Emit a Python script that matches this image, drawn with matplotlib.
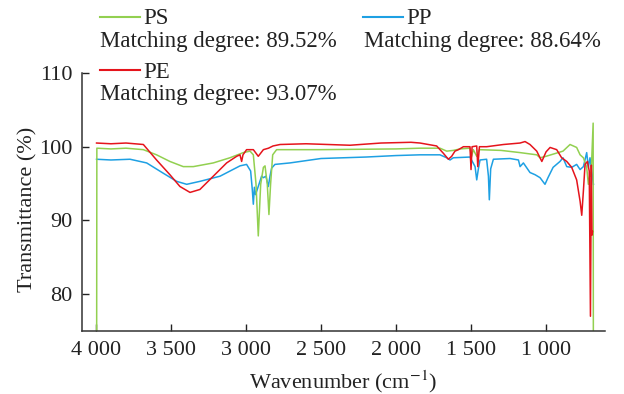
import matplotlib
matplotlib.use("Agg")
import matplotlib.pyplot as plt
from matplotlib.lines import Line2D

# Spectra (wavenumber cm-1, transmittance %)
ps_wn = [3996, 3994, 3900, 3800, 3684, 3596, 3507, 3418, 3351, 3218, 3107, 3018, 2973, 2951,
         2933, 2918, 2902, 2884, 2873, 2858, 2847, 2836, 2822, 2796, 2500, 2000, 1840, 1707,
         1662, 1618, 1573, 1507, 1496, 1485, 1462, 1445, 1300, 1173, 1062, 1040, 1000, 887,
         840, 796, 773, 751, 729, 718, 705, 700, 686, 684]
ps_t = [60, 99.8, 99.7, 99.8, 99.6, 98.9, 98.0, 97.3, 97.3, 97.8, 98.5, 99.2, 99.4, 98.9,
        94.9, 87.9, 94.9, 97.2, 97.4, 94.9, 90.8, 94.9, 98.9, 99.6, 99.6, 99.7, 99.8, 99.8,
        99.4, 99.5, 99.7, 99.8, 98.7, 99.6, 98.7, 99.6, 99.5, 99.2, 98.9, 98.5, 98.7, 99.4,
        100.3, 99.9, 98.9, 98.5, 97.2, 94.9, 96.5, 96.0, 103.2, 60]

pp_wn = [3996, 3900, 3773, 3662, 3551, 3462, 3395, 3307, 3173, 3040, 2996, 2969, 2958, 2951,
         2944, 2936, 2920, 2896, 2884, 2867, 2851, 2840, 2829, 2807, 2707, 2500, 2200, 2000,
         1840, 1707, 1662, 1640, 1618, 1507, 1473, 1462, 1451, 1440, 1396, 1384, 1378, 1369,
         1351, 1240, 1184, 1173, 1151, 1107, 1073, 1040, 1007, 987, 953, 907, 887, 862, 829,
         796, 773, 751, 729, 718, 707, 684]
pp_t = [98.3, 98.2, 98.3, 97.8, 96.4, 95.3, 94.9, 95.3, 96.0, 97.4, 97.6, 96.7, 94.2, 92.2,
        94.5, 93.5, 94.5, 96.0, 95.8, 96.0, 94.6, 96.0, 97.1, 97.6, 97.8, 98.4, 98.6, 98.8,
        98.9, 98.9, 98.5, 98.2, 98.5, 98.6, 97.3, 95.5, 97.0, 98.2, 98.3, 96.0, 92.8, 97.0,
        98.3, 98.4, 98.2, 97.3, 97.8, 96.5, 96.2, 95.8, 94.9, 95.8, 97.2, 98.0, 98.5, 97.3, 97.2,
        97.6, 96.9, 97.3, 99.2, 97.2, 98.5, 94.9]

pe_wn = [3996, 3900, 3800, 3684, 3596, 3507, 3440, 3373, 3307, 3218, 3129, 3062, 3040, 3029,
         3020, 2996, 2951, 2918, 2884, 2850, 2820, 2773, 2600, 2307, 2100, 1900, 1840, 1729,
         1684, 1651, 1629, 1607, 1584, 1551, 1507, 1500, 1493, 1462, 1455, 1444, 1396, 1284,
         1173, 1140, 1107, 1062, 1028, 1000, 973, 929, 896, 862, 829, 796, 773, 762, 751, 740,
         724, 712, 704, 698, 694, 690]
pe_t = [100.5, 100.4, 100.5, 100.3, 98.2, 96.2, 94.6, 93.8, 94.2, 96.0, 97.8, 98.7, 98.9, 98.0,
        98.9, 99.6, 99.6, 98.7, 99.6, 99.8, 100.1, 100.3, 100.4, 100.2, 100.5, 100.6, 100.5, 100.1,
        99.1, 98.3, 98.7, 99.4, 99.6, 100.0, 100.0, 96.9, 100.0, 100.1, 97.3, 100.0, 100.0, 100.3,
        100.5, 100.7, 100.3, 99.4, 98.0, 99.3, 99.9, 99.6, 98.5, 98.0, 97.2, 95.5, 92.6, 90.7, 94.0, 97.6,
        98.0, 96.7, 77.0, 97.5, 88.0, 88.5]

x_ticks = [4000, 3500, 3000, 2500, 2000, 1500, 1000]
x_labels = ["4 000", "3 500", "3 000", "2 500", "2 000", "1 500", "1 000"]
y_ticks = [80, 90, 100, 110]

GREEN = "#92D050"
BLUE = "#1EA0E3"
RED = "#E5141C"

plt.rcParams["font.family"] = ["Liberation Serif", "DejaVu Serif"]
plt.rcParams["mathtext.fontset"] = "stix"

fig = plt.figure(figsize=(6.24, 3.94), dpi=100)
ax = fig.add_axes([82 / 624, 1 - 331 / 394, (605 - 82) / 624, (331 - 73) / 394])

lw = 1.1
ax.plot(pp_wn, pp_t, color=BLUE, lw=lw)
ax.plot(ps_wn, ps_t, color=GREEN, lw=lw)
ax.plot(pe_wn, pe_t, color=RED, lw=lw)

ax.set_xlim(4093, 607)
ax.set_ylim(75, 110)
ax.set_xticks(x_ticks)
ax.set_xticklabels(x_labels)
ax.set_yticks(y_ticks)
ax.tick_params(direction="in", length=5, width=1, labelsize=16, colors="#222222", pad=7)
for s in ["top", "right"]:
    ax.spines[s].set_visible(False)
for s in ["left", "bottom"]:
    ax.spines[s].set_color("#333333")
    ax.spines[s].set_linewidth(1.1)

ax.set_xlabel("Wavenumber (cm$^{-1}$)", fontsize=16, color="#222222")
ax.xaxis.set_label_coords(0.5, -0.145)
ax.set_ylabel("Transmittance (%)", fontsize=16, color="#222222")
ax.yaxis.set_label_coords(-0.086, 0.47)

# legend drawn by hand (two columns, two-line labels)
def legend_entry(x, y, color, name, match):
    fig.add_artist(Line2D([x / 624, (x + 40) / 624], [1 - y / 394, 1 - y / 394],
                          color=color, lw=1.5, transform=fig.transFigure))
    fig.text((x + 43) / 624, 1 - (y + 7.5) / 394, name, fontsize=16.5, color="#222222", va="baseline")
    fig.text((x + 0.5) / 624, 1 - (y + 30) / 394, "Matching degree: " + match, fontsize=16.5,
             color="#222222", va="baseline")

legend_entry(100, 16.5, GREEN, "PS", "89.52%")
legend_entry(363, 16.5, BLUE, "PP", "88.64%")
legend_entry(100, 70, RED, "PE", "93.07%")

fig.savefig("out.png", dpi=100)
